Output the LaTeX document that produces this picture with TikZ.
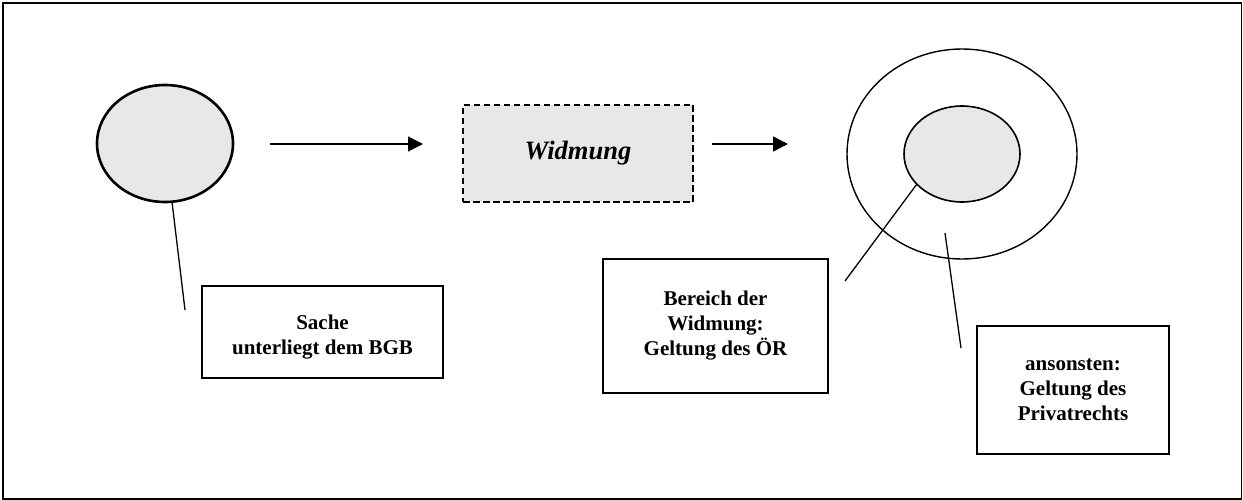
\documentclass[tikz,border=0pt]{standalone}
\usepackage{fontspec}
\setmainfont{Liberation Serif}
\usetikzlibrary{shapes.geometric,arrows.meta}
\definecolor{lightfill}{HTML}{E8E8E8}
\tikzset{
  blob/.style={ellipse,draw=black,fill=lightfill,inner sep=0pt},
  ring/.style={ellipse,draw=black,inner sep=0pt,line width=1.4pt},
  boldtext/.style={align=center,font=\bfseries\fontsize{21}{25}\selectfont},
  labelbox/.style={rectangle,draw=black,line width=1.5pt,inner sep=0pt,boldtext},
  flow/.style={line width=1.5pt,-{Triangle[length=15pt,width=15pt]}},
  pointer/.style={line width=1.3pt}
}
\begin{document}
\begin{tikzpicture}[x=1pt,y=-1pt]
  \useasboundingbox (0,0) rectangle (1243,500);
  % frame
  \draw[line width=1.4pt] (3,3) rectangle (1241.5,499);
  \draw[line width=2.2pt] (3,499) -- (3,3) -- (1241.5,3);

  % the thing before dedication
  \node[blob,line width=2.6pt,minimum width=136pt,minimum height=117pt] (thing) at (165,143.5) {};
  \node[labelbox,minimum width=241pt,minimum height=92pt,
        label={[boldtext,yshift=-5pt]center:Sache\\unterliegt dem BGB}] (bgb) at (322.5,332) {};
  \coordinate (thingEnd) at (185,310);
  \draw[pointer] (thing) -- (thingEnd);

  % dedication step
  \coordinate (a1s) at (270,144);
  \node[rectangle,draw=black,fill=lightfill,dash pattern=on 6.5pt off 3.5pt,line width=1.5pt,
        minimum width=230pt,minimum height=97pt,inner sep=0pt,
        font=\bfseries\itshape\fontsize{26.5}{30}\selectfont] (widmung) at (578,153.5) {Widmung};
  \coordinate (a1e) at (423,144);
  \draw[flow] (a1s) -- (a1e);
  \coordinate (a2s) at (712,144);
  \coordinate (a2e) at (788,144);
  \draw[flow] (a2s) -- (a2e);

  % dedicated thing: inner scope of dedication, outer remainder
  \node[ring,minimum width=230pt,minimum height=210pt] (outer) at (962,154) {};
  \node[blob,line width=1.6pt,minimum width=116pt,minimum height=96pt] (inner) at (962,154) {};

  \node[labelbox,minimum width=225pt,minimum height=134pt] (oer) at (715.5,326) {Bereich der\\Widmung:\\Geltung des ÖR};
  \node[labelbox,minimum width=192pt,minimum height=128pt] (priv) at (1073,390) {ansonsten:\\Geltung des\\Privatrechts};

  \coordinate (oerEnd) at (845,281);
  \draw[pointer] (inner.214) -- (oerEnd);
  \coordinate (privStart) at (945,233);
  \coordinate (privEnd) at (961,348);
  \draw[pointer] (privStart) -- (privEnd);
\end{tikzpicture}
\end{document}
